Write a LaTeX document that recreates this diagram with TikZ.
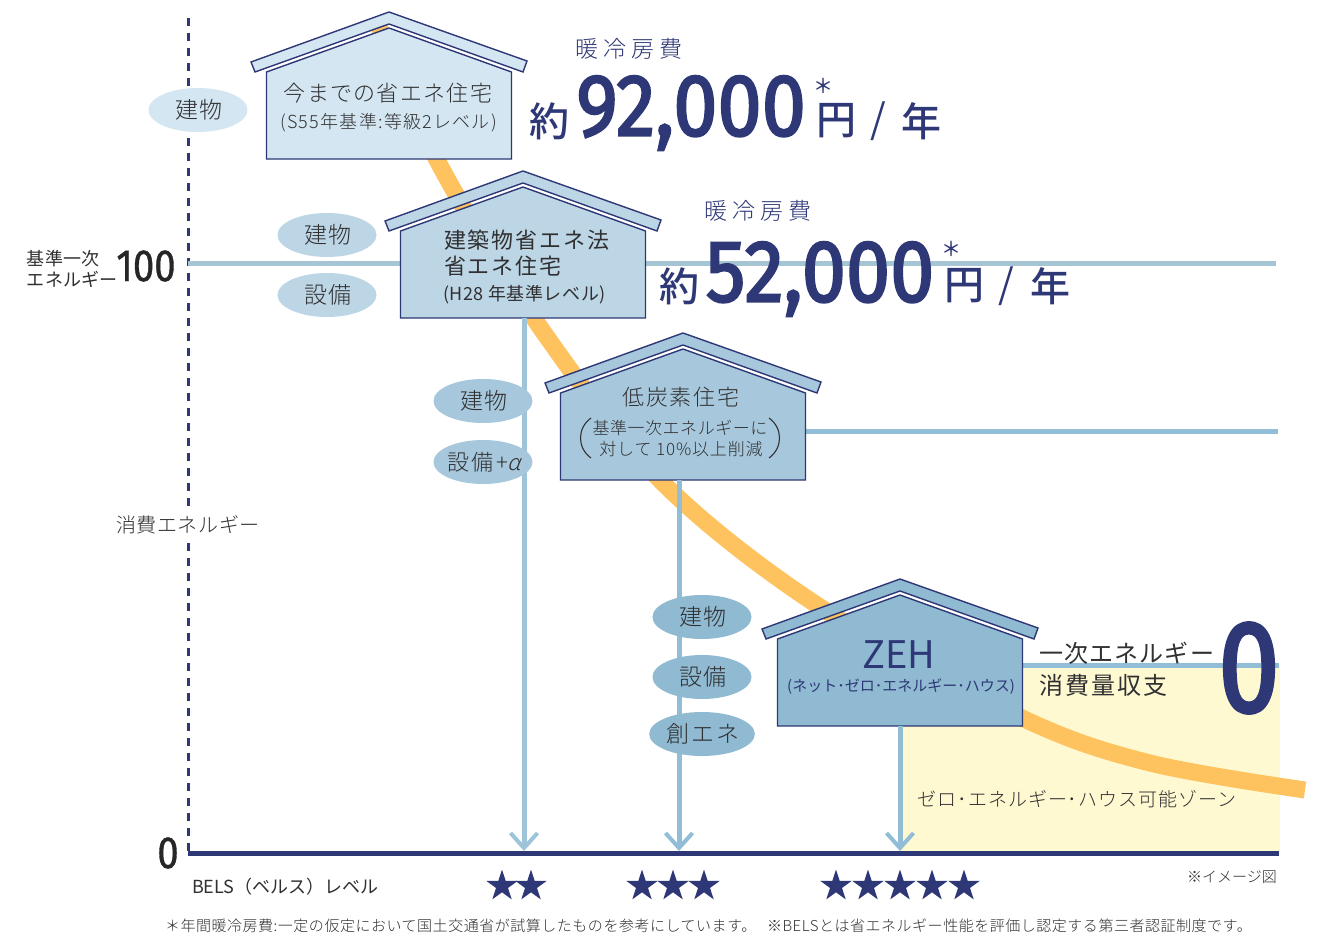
\documentclass[tikz,border=0pt]{standalone}
\usepackage{fontspec}
\usepackage{graphicx}
\usetikzlibrary{shapes.geometric,arrows.meta}
\setmainfont{Noto Sans CJK JP Light}
\newfontfamily\jpm{Noto Sans CJK JP Medium}
\newfontfamily\jpr{Noto Sans CJK JP}
\newfontfamily\bigf{Fira Sans}
\definecolor{navy}{HTML}{2E3876}
\definecolor{ink}{HTML}{303032}
\definecolor{hA}{HTML}{D4E6F1}
\definecolor{hB}{HTML}{BDD6E5}
\definecolor{hC}{HTML}{A7C8DC}
\definecolor{hD}{HTML}{8FBAD1}
\definecolor{lineA}{HTML}{A5C4D4}
\definecolor{lineB}{HTML}{9DC4D9}
\definecolor{lineC}{HTML}{91BDD6}
\definecolor{curve}{HTML}{FEC35F}
\definecolor{zone}{HTML}{FFF9D2}
\newcommand\fs[2]{\fontsize{#1pt}{#1pt}\selectfont\addfontfeature{LetterSpace=#2}}
\newcommand\house[4]{%
  \begin{scope}[shift={(#1,#2)}]
    \coordinate (#4) at (0,147);
    \filldraw[fill=#3,draw=navy,line width=1.4pt,line join=miter]
      (0,0)--(138,49)--(134,60)--(0,12)--(-134,60)--(-138,50)--cycle;
    \filldraw[fill=#3,draw=navy,line width=1.4pt,line join=miter]
      (0,16)--(122.5,60)--(122.5,147)--(-122.5,147)--(-122.5,60)--cycle;
  \end{scope}}
\tikzset{
  txt/.style={inner sep=0pt,outer sep=0pt,text=ink,align=center},
  ntxt/.style={txt,text=navy},
  lefttxt/.style={txt,anchor=west,align=left},
  tag/.style={ellipse,minimum width=99pt,minimum height=44pt,inner sep=0pt,text=ink},
  starnode/.style={star,star points=5,star point ratio=2.618,fill=navy,inner sep=0pt,minimum size=33pt},
  flow/.style={line width=5pt,-{Straight Barb[length=15pt,width=27pt,line width=4pt]}},
}
\begin{document}
\begin{tikzpicture}[x=1pt,y=-1pt]
\useasboundingbox (0,0) rectangle (1324,933);
\fill[white] (0,0) rectangle (1324,933);
\fill[zone] (900,665) rectangle (1280,853);
% named ends
\coordinate (axisL) at (188,853);
\coordinate (axisR) at (1279,853);
\coordinate (axTop) at (188,18);
\coordinate (a2) at (524,851);
\coordinate (a3) at (679,851);
\coordinate (a4) at (900,851);
\coordinate (l1a) at (188,263);
\coordinate (l1b) at (1276,263);
\coordinate (l2a) at (805,431);
\coordinate (l2b) at (1278,431);
\coordinate (l3a) at (1022,665);
\coordinate (l3b) at (1279,665);
% energy curve
\draw[curve,line width=17pt] plot[smooth,tension=0.55] coordinates {(378,24) (437,160) (535,320) (661,481) (820,607) (1022,718) (1150,763) (1305,790)};
% axis
\draw[navy,line width=3pt,dash pattern=on 8pt off 7pt] (axTop) -- (axisL);
\draw[lineA,line width=5pt] (l1a) -- (l1b);
\draw[lineC,line width=5pt] (l2a) -- (l2b);
\draw[lineC,line width=5pt] (l3a) -- (l3b);
\house{389}{12}{hA}{hone}
\house{523}{171}{hB}{htwo}
\house{683}{333}{hC}{hthree}
\house{900}{579}{hD}{hfour}
\draw[lineB,flow] ([xshift=1pt]htwo) -- (a2);
\draw[lineC,flow] ([xshift=-4pt]hthree) -- (a3);
\draw[lineC,flow] (hfour) -- (a4);
\draw[navy,line width=5pt] (axisL) -- (axisR);
% tags
\node[tag,fill=hA] (t1) at (198,110) {\raisebox{-1pt}{\hspace{2pt}\fs{23}{6}建物}};
\node[tag,fill=hB] (t2) at (327,235) {\raisebox{-1pt}{\hspace{2pt}\fs{23}{6}建物}};
\node[tag,fill=hB] (t3) at (327,295) {\raisebox{-1pt}{\hspace{2pt}\fs{23}{6}設備}};
\node[tag,fill=hC] (t4) at (483,401) {\raisebox{-1pt}{\hspace{2pt}\fs{23}{6}建物}};
\node[tag,fill=hC] (t5) at (483,462) {\makebox[0pt][c]{\hspace{3pt}\fs{22}{10}設備+{\addfontfeature{FakeSlant=0.25}α}}};
\node[tag,fill=hD] (t6) at (702,617) {\raisebox{-1pt}{\hspace{2pt}\fs{23}{6}建物}};
\node[tag,fill=hD] (t7) at (702,677) {\raisebox{-1pt}{\hspace{2pt}\fs{23}{6}設備}};
\node[tag,fill=hD] (t8) at (702,734) {\raisebox{-1pt}{\hspace{2pt}\fs{23}{8}創エネ}};
% house texts
\node[txt] (n1) at (388,93) {\fs{22}{6}今までの省エネ住宅};
\node[txt] (n2) at (388.5,123) {\fs{18}{7}(S55年基準:等級2レベル)};
\node[ntxt,lefttxt] (n3) at (444,240) {\jpr\fs{22}{9}建築物省エネ法};
\node[ntxt,lefttxt] (n4) at (444,266) {\jpr\fs{22}{9}省エネ住宅};
\node[ntxt,lefttxt] (n5) at (443,294.5) {\jpr\fs{18}{3}(H28 年基準レベル)};
\node[txt] (n6) at (681,397) {\fs{22}{9}低炭素住宅};
\node[txt] (n7) at (680,428) {\fs{17}{3}基準一次エネルギーに};
\node[txt] (n8) at (681,449.5) {\fs{17}{5}対して 10\%以上削減};
\draw[ink,line width=1.1pt] (591,418) .. controls (577,428) and (577,448) .. (591,458);
\draw[ink,line width=1.1pt] (769,418) .. controls (783,428) and (783,448) .. (769,458);
\node[ntxt] (n9) at (899,655) {\jpr\fontsize{38}{38}\selectfont ZEH};
\node[ntxt] (n10) at (901,687) {\jpr\fs{15}{0}(ネット･ゼロ･エネルギー･ハウス)};
\node[ntxt,lefttxt] (n11) at (1039,653) {\jpr\fs{24}{5}一次エネルギー};
\node[ntxt,lefttxt] (n12) at (1039,685) {\jpr\fs{24}{9}消費量収支};
\node[ntxt] (n13) at (1249,668) {\bigf\addfontfeature{FakeBold=3}\fontsize{130}{130}\selectfont\scalebox{0.84}[1]{0}};
\node[txt] (n14) at (1077,799.5) {\fs{19}{5}ゼロ･エネルギー･ハウス可能ゾーン};
% costs
\node[ntxt] (c1) at (629,49) {\fs{23}{21}暖冷房費};
\node[ntxt] (c2) at (549,121) {\jpm\fontsize{40}{40}\selectfont 約};
\node[ntxt] (c3) at (691,113) {\bigf\addfontfeature{FakeBold=2.5}\fontsize{88}{88}\selectfont\scalebox{0.9}[1]{92,000}};
\node[ntxt] (c4) at (823,86) {\jpm\fontsize{20}{20}\selectfont ＊};
\node[ntxt] (c5) at (836,121) {\jpm\fontsize{40}{40}\selectfont 円};
\node[ntxt] (c6) at (878,121) {\jpr\fontsize{40}{40}\selectfont /};
\node[ntxt] (c7) at (921,121) {\jpm\fontsize{40}{40}\selectfont 年};
\node[ntxt] (d1) at (758,211) {\fs{23}{21}暖冷房費};
\node[ntxt] (d2) at (679,286) {\jpm\fontsize{40}{40}\selectfont 約};
\node[ntxt] (d3) at (820,279) {\bigf\addfontfeature{FakeBold=2.5}\fontsize{88}{88}\selectfont\scalebox{0.9}[1]{52,000}};
\node[ntxt] (d4) at (951,249) {\jpm\fontsize{20}{20}\selectfont ＊};
\node[ntxt] (d5) at (964,286) {\jpm\fontsize{40}{40}\selectfont 円};
\node[ntxt] (d6) at (1006,286) {\jpr\fontsize{40}{40}\selectfont /};
\node[ntxt] (d7) at (1050,286) {\jpm\fontsize{40}{40}\selectfont 年};
% left labels
\node[lefttxt] (e1) at (27,259) {\jpr\fs{18}{0}基準一次};
\node[lefttxt] (e2) at (27,279) {\jpr\fs{18}{0}エネルギー};
\node[txt,text=black!85] (e3) at (146,266) {\bigf\addfontfeature{FakeBold=1}\fontsize{45}{45}\selectfont\scalebox{0.85}[1]{100}};
\node[txt,fill=white,inner ysep=3pt] (e4) at (188,525) {\fs{20}{3}消費エネルギー};
\node[txt,text=black!85] (e5) at (168,853) {\bigf\addfontfeature{FakeBold=1}\fontsize{45}{45}\selectfont\scalebox{0.85}[1]{0}};
\node[lefttxt] (e6) at (192,887) {\jpr\fs{18}{0}BELS（ベルス）レベル};
\node[txt] (e7) at (1232,877) {\fs{15}{0}※イメージ図};
\node[lefttxt] (f1) at (165,926) {\fs{15}{3.5}＊年間暖冷房費:一定の仮定において国土交通省が試算したものを参考にしています。};
\node[lefttxt] (f2) at (767,926) {\fs{15}{3.5}※BELSとは省エネルギー性能を評価し認定する第三者認証制度です。};
% stars
\foreach \n/\x in {s1/502,s2/531,s3/642,s4/673,s5/704,s6/836,s7/868,s8/900,s9/932,s10/964}
  \node[starnode] (\n) at (\x,886) {};
\end{tikzpicture}
\end{document}
